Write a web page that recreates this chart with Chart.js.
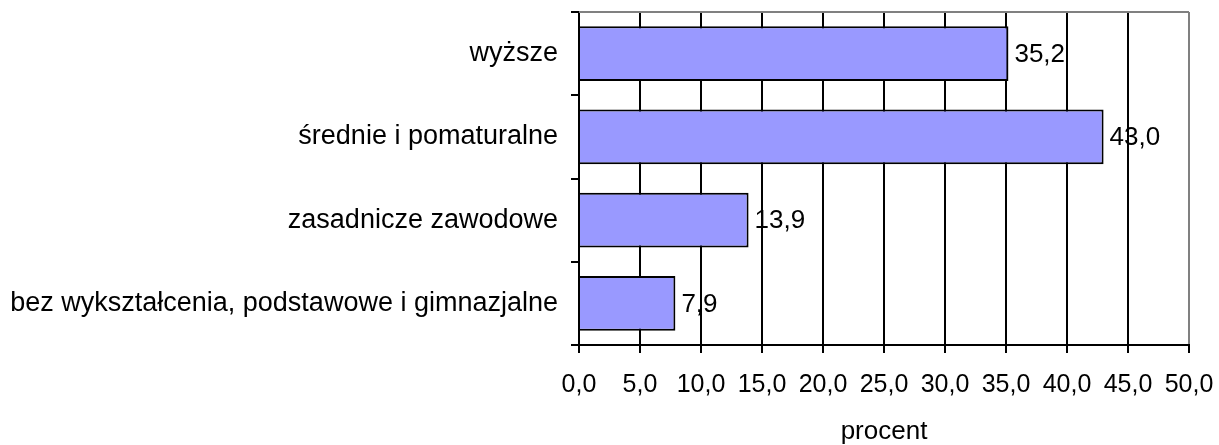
<!DOCTYPE html>
<html>
<head>
<meta charset="utf-8">
<script src="https://cdn.jsdelivr.net/npm/chart.js@4"></script>
<style>
  body { margin: 0; background: #fff; }
  canvas { display: block; }
</style>
</head>
<body>
<canvas id="eduChart" width="1219" height="445"></canvas>
<script>
const categories = ['wyższe', 'średnie i pomaturalne', 'zasadnicze zawodowe', 'bez wykształcenia, podstawowe i gimnazjalne'];
const percentValues = [35.2, 43.0, 13.9, 7.9];
const axisTitle = 'procent';

const fmt = v => v.toFixed(1).replace('.', ',');

// values next to the bar ends
const valueLabels = {
    id: 'valueLabels',
    afterDatasetsDraw(chart) {
        const ctx = chart.ctx;
        const meta = chart.getDatasetMeta(0);
        ctx.save();
        ctx.font = '26px "Liberation Sans", Arial, sans-serif';
        ctx.fillStyle = '#000';
        ctx.textAlign = 'left';
        ctx.textBaseline = 'middle';
        meta.data.forEach((bar, i) => {
            ctx.fillText(fmt(percentValues[i]), bar.x + 6, bar.y + 1);
        });
        ctx.restore();
    }
};

// gray frame on top of the plot area
const topBorder = {
    id: 'topBorder',
    afterDraw(chart) {
        const {ctx, chartArea} = chart;
        ctx.save();
        ctx.strokeStyle = '#808080';
        ctx.lineWidth = 2;
        ctx.beginPath();
        ctx.moveTo(chartArea.left, chartArea.top);
        ctx.lineTo(chartArea.right, chartArea.top);
        ctx.stroke();
        ctx.restore();
    }
};

const ctx = document.getElementById('eduChart').getContext('2d');
new Chart(ctx, {
    type: 'bar',
    data: {
        labels: categories,
        datasets: [{
            data: percentValues,
            backgroundColor: '#9999FF',
            borderColor: '#000000',
            borderWidth: 2,
            barPercentage: 0.66,
            categoryPercentage: 1.0
        }]
    },
    options: {
        indexAxis: 'y',
        responsive: false,
        animation: false,
        layout: {
            padding: { top: 12, right: 30, bottom: 0, left: 0 }
        },
        plugins: {
            legend: { display: false },
            tooltip: { enabled: false }
        },
        scales: {
            x: {
                min: 0,
                max: 50,
                ticks: {
                    stepSize: 5,
                    color: '#000',
                    padding: 17,
                    maxRotation: 0,
                    font: { family: '"Liberation Sans", Arial, sans-serif', size: 25 },
                    callback: v => fmt(v)
                },
                grid: {
                    color: c => c.tick && c.tick.value === 50 ? '#808080' : '#000',
                    lineWidth: 2,
                    tickLength: 8,
                    tickColor: '#000'
                },
                border: { color: '#000', width: 2 },
                title: {
                    display: true,
                    text: axisTitle,
                    color: '#000',
                    padding: 0,
                    font: { family: '"Liberation Sans", Arial, sans-serif', size: 26, lineHeight: 1 }
                },
                afterFit: scale => {
                    scale.height = 100;
                    scale.paddingLeft = 0;
                    scale.paddingRight = 0;
                }
            },
            y: {
                ticks: {
                    color: '#000',
                    padding: 13,
                    font: { family: '"Liberation Sans", Arial, sans-serif', size: 27 }
                },
                grid: {
                    offset: true,
                    drawOnChartArea: false,
                    tickLength: 8,
                    color: '#000',
                    lineWidth: 2
                },
                border: { color: '#000', width: 2 },
                afterFit: scale => {
                    scale.width = 579;
                    scale.paddingTop = 0;
                    scale.paddingBottom = 0;
                }
            }
        }
    },
    plugins: [valueLabels, topBorder]
});
</script>
</body>
</html>
